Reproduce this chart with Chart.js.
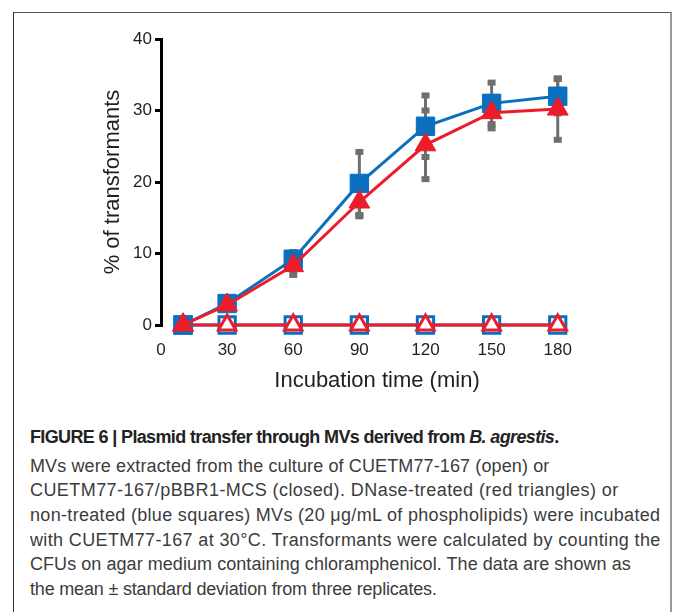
<!DOCTYPE html>
<html>
<head>
<meta charset="utf-8">
<script src="https://cdn.jsdelivr.net/npm/chart.js@4.4.1/dist/chart.umd.min.js"></script>
<style>
  html, body { margin: 0; padding: 0; background: #fff; }
  body { width: 673px; height: 612px; position: relative; overflow: hidden; }
  #frame {
    position: absolute; left: 13px; top: 12px; width: 656px; height: 640px;
    border-left: 1px solid #333; border-top: 1px solid #555; border-right: 2px solid #999;
  }
  #chart { position: absolute; left: 0; top: 0; }
  #caption {
    position: absolute; left: 30px; top: 424.6px; width: 640px;
    font-family: "Liberation Sans", Arial, sans-serif; font-size: 18px;
    letter-spacing: 0.2px; line-height: 24.7px; color: #3c3c3c; white-space: nowrap;
  }
  #caption .title { font-weight: bold; color: #222; letter-spacing: -0.64px; margin-bottom: 4.3px; }
</style>
</head>
<body>
<div id="frame"></div>
<canvas id="chart" width="673" height="400"></canvas>
<div id="caption">
  <div class="title">FIGURE 6 | Plasmid transfer through MVs derived from <i>B. agrestis</i>.</div>
  <div style="letter-spacing:0.12px">MVs were extracted from the culture of CUETM77-167 (open) or</div>
  <div style="letter-spacing:0.43px">CUETM77-167/pBBR1-MCS (closed). DNase-treated (red triangles) or</div>
  <div style="letter-spacing:0.32px">non-treated (blue squares) MVs (20 μg/mL of phospholipids) were incubated</div>
  <div style="letter-spacing:0.37px">with CUETM77-167 at 30°C. Transformants were calculated by counting the</div>
  <div style="letter-spacing:0.055px">CFUs on agar medium containing chloramphenicol. The data are shown as</div>
  <div style="letter-spacing:-0.18px">the mean ± standard deviation from three replicates.</div>
</div>
<script>
// incubation time points (min)
const times = [10, 30, 60, 90, 120, 150, 180];

// % of transformants, mean values
const blueClosed = [0, 3.0, 9.2, 19.8, 27.8, 31.0, 32.0];
const redClosed = [0, 2.8, 8.3, 17.2, 25.2, 29.7, 30.2];
const blueOpen = [0, 0, 0, 0, 0, 0, 0];
const redOpen = [0, 0, 0, 0, 0, 0, 0];

// standard deviations
const blueSD = [0, 0.4, 1.0, 4.4, 4.3, 2.9, 2.4];
const redSD = [0, 0.3, 1.3, 2.0, 4.8, 2.2, 4.3];

const xTicks = [0, 30, 60, 90, 120, 150, 180];
const yTicks = [0, 10, 20, 30, 40];

const BLUE = '#0a6fbe';
const RED = '#ec1c2a';
const GRAY = '#6f6f6f';
const TEXT = '#231f20';

const pts = vals => times.map((t, i) => ({ x: t, y: vals[i] }));

// gray error bars drawn under the markers
const errorBars = {
    id: 'errorBars',
    beforeDatasetsDraw(chart) {
        const { ctx, scales: { x, y } } = chart;
        ctx.save();
        ctx.strokeStyle = GRAY;
        ctx.fillStyle = GRAY;
        ctx.lineWidth = 3;
        [[blueClosed, blueSD], [redClosed, redSD]].forEach(([vals, sds]) => {
            times.forEach((t, i) => {
                if (!sds[i]) return;
                const px = x.getPixelForValue(t);
                const top = y.getPixelForValue(vals[i] + sds[i]);
                const bot = y.getPixelForValue(vals[i] - sds[i]);
                ctx.beginPath();
                ctx.moveTo(px, top);
                ctx.lineTo(px, bot);
                ctx.stroke();
                ctx.fillRect(px - 4, top - 3, 8, 6);
                ctx.fillRect(px - 4, bot - 3, 8, 6);
            });
        });
        ctx.restore();
    }
};

new Chart(document.getElementById('chart'), {
    type: 'line',
    data: {
        datasets: [
            { data: pts(redClosed), borderColor: RED, backgroundColor: RED, pointStyle: 'triangle',
              pointRadius: 12, pointBorderWidth: 1, pointBorderColor: RED, borderWidth: 3, order: 0 },
            { data: pts(blueClosed), borderColor: BLUE, backgroundColor: BLUE, pointStyle: 'rect',
              pointRadius: 13, pointBorderWidth: 1, pointBorderColor: BLUE, borderWidth: 3, order: 1 },
            { data: pts(redOpen), borderColor: RED, backgroundColor: '#fff', pointStyle: 'triangle',
              pointRadius: 10, pointBorderWidth: 3, pointBorderColor: RED, borderWidth: 3, order: 2 },
            { data: pts(blueOpen), borderColor: BLUE, backgroundColor: '#fff', pointStyle: 'rect',
              pointRadius: 11.5, pointBorderWidth: 3, pointBorderColor: BLUE, borderWidth: 3, order: 3 }
        ].map(d => Object.assign(d, { tension: 0, clip: false, pointHoverRadius: d.pointRadius }))
    },
    options: {
        responsive: false,
        animation: false,
        events: [],
        layout: { padding: { top: 39, right: 80, bottom: 0, left: 0 } },
        plugins: { legend: { display: false }, tooltip: { enabled: false } },
        scales: {
            x: {
                type: 'linear', min: 0, max: 196,
                afterBuildTicks: s => { s.ticks = xTicks.map(v => ({ value: v })); },
                afterFit: s => { s.height = 75; },
                border: { display: false },
                grid: { display: false, drawTicks: false },
                ticks: { padding: 15, color: TEXT, font: { family: 'Liberation Sans', size: 17 } },
                title: { display: true, text: 'Incubation time (min)', color: TEXT,
                         font: { family: 'Liberation Sans', size: 22 }, padding: { top: 0, bottom: 6 } }
            },
            y: {
                min: 0, max: 40,
                afterBuildTicks: s => { s.ticks = yTicks.map(v => ({ value: v })); },
                afterFit: s => { s.width = 161; },
                border: { display: true, color: '#000', width: 3 },
                grid: { drawOnChartArea: false, drawTicks: true, tickLength: 6, color: '#000', lineWidth: 3 },
                ticks: { padding: 3, color: TEXT, font: { family: 'Liberation Sans', size: 17 } },
                title: { display: true, text: '% of transformants', color: TEXT,
                         font: { family: 'Liberation Sans', size: 22 }, padding: { top: 100, bottom: 0 } }
            }
        }
    },
    plugins: [errorBars]
});
</script>
</body>
</html>
